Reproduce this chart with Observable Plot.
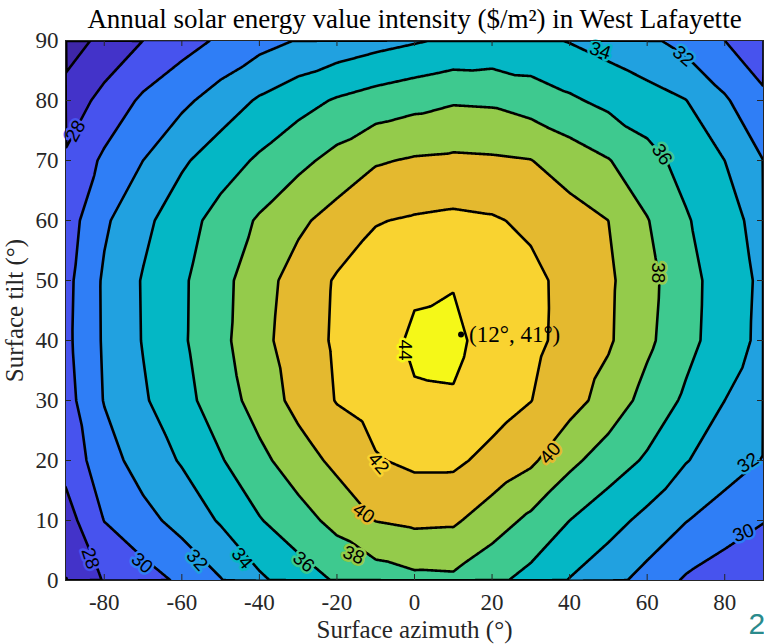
<!DOCTYPE html>
<html><head><meta charset="utf-8">
<script src="https://cdn.jsdelivr.net/npm/d3@7"></script>
<script src="https://cdn.jsdelivr.net/npm/@observablehq/plot@0.6"></script>
<style>html,body{margin:0;padding:0;background:#fff;overflow:hidden}svg{display:block}</style>
</head><body><div id="chart"></div>
<script>
// Grid of annual value intensity ($/m^2)
const azimuths = [-90,-80,-70,-60,-50,-40,-30,-20,-10,0,10,20,30,40,50,60,70,80,90];
const tilts = [0,10,20,30,40,50,60,70,80,90];
const tilt0  = [25.9,28.15,29.18,30.33,31.88,33.64,34.98,36.2,36.9,37.5,37.6,36.48,35.35,33.9,32.7,31.27,29.75,28.9,28.0];
const tilt10 = [27.1,30.04,31.34,32.7,34.2,35.87,37.2,38.6,40.05,40.4,40.3,38.96,37.56,36.0,34.75,33.45,32.07,31.0,30.1];
const tilt20 = [28.7,31.1,32.9,34.17,35.84,37.48,39.05,40.5,41.85,42.4,42.4,41.4,40.35,38.48,37.03,35.73,34.1,32.98,31.9];
const tilt30 = [29.2,32.1,33.75,35.36,37.0,38.83,40.63,42.1,42.8,43.8,43.85,42.96,42.04,40.76,39.2,37.3,35.67,34.0,32.8];
const tilt40 = [29.5,32.25,34.1,35.73,37.47,39.43,41.0,42.28,43.2,44.3,44.4,43.3,42.45,41.43,40.25,38.4,36.6,35.0,33.5];
const tilt50 = [29.4,32.28,34.14,35.7,37.38,39.2,40.83,42.2,42.9,43.7,43.9,43.3,42.5,41.4,40.32,38.6,36.7,35.05,33.6];
const tilt60 = [29.0,31.7,33.5,35.16,36.75,38.24,39.6,40.79,41.9,42.2,42.4,42.2,41.63,40.8,40.0,38.1,36.2,34.7,33.3];
const tilt70 = [28.3,30.36,32.0,33.7,35.06,36.3,37.47,38.64,39.8,40.2,40.35,40.25,40.05,39.06,38.1,36.7,35.3,34.0,32.0];
const tilt80 = [26.75,28.64,30.34,31.55,32.9,34.24,35.27,36.2,36.85,37.35,37.8,37.7,37.1,36.3,35.49,34.8,34.04,32.25,30.4];
const tilt90 = [25.1,26.5,28.0,29.2,30.3,31.3,32.1,32.7,33.3,33.8,34.3,34.5,34.4,33.9,33.2,32.4,31.3,30.0,28.7];
const levels = [24,26,28,30,32,34,36,38,40,42,44];
const bandColors = ["#3e26a8","#4333c9","#4753ee","#2f7ef6","#21a1e0","#04b7c5","#3ec98f","#94cb4b","#e4b92f","#f9d330","#f5f818"];
const xTicks = [-80,-60,-40,-20,0,20,40,60,80];
const yTicks = [0,10,20,30,40,50,60,70,80,90];
// Inline contour labels
const labelAz    = [-87.4,47.9,69.3,63.8,62.9,-2.4,-83.6,-70.3,-56.1,-44.5,-28.6,-15.7,-13.1,-9.3,35.0,86.0,84.8];
const labelTilt  = [74.9,88.3,87.4,71.0,51.3,38.4,3.7,2.9,3.4,3.7,3.1,4.25,11.2,19.5,21.2,19.6,7.9];
const labelLevel = [28,34,32,36,38,44,28,30,32,34,36,38,40,42,40,32,30];
const labelAngle = [-61,18,40,57,90,90,72,40,48,51,39,22,35,50,-48,-33,-21];
// Optimum
const peakAz = [12];
const peakTilt = [41];
const titleText = "Annual solar energy value intensity ($/m²) in West Lafayette";
const xLabel = "Surface azimuth (°)";
const yLabel = "Surface tilt (°)";

const rows = [tilt0,tilt10,tilt20,tilt30,tilt40,tilt50,tilt60,tilt70,tilt80,tilt90];
const points = [];
rows.forEach((row, j) => row.forEach((v, i) => points.push({az: azimuths[i], tilt: tilts[j], v})));
const labels = labelAz.map((az, i) => ({az, tilt: labelTilt[i], level: labelLevel[i], angle: labelAngle[i]}));
const peak = peakAz.map((az, i) => ({az, tilt: peakTilt[i]}));

const W = 764, H = 644, mL = 65, mR = 1, mT = 40, mB = 64;
const innerW = W - mL - mR, innerH = H - mT - mB;
const serif = "'Liberation Serif', 'Times New Roman', serif";
const sans = "'Liberation Sans', Arial, sans-serif";
const axisColor = "#262626";
const cOpts = {x: "az", y: "tilt", interpolate: "barycentric", pixelSize: 1, x1: -93, x2: 93, y1: -3, y2: 93, clip: true};

const chart = Plot.plot({
  width: W, height: H, marginLeft: mL, marginRight: mR, marginTop: mT, marginBottom: mB,
  style: {fontFamily: serif, fontSize: "23px", background: "#fff", color: axisColor},
  x: {domain: [-90, 90]},
  y: {domain: [0, 90]},
  color: {type: "ordinal", domain: levels, range: bandColors},
  marks: [
    Plot.contour(points, {...cOpts, fill: "v", thresholds: levels, stroke: "none"}),
    Plot.contour(points, {...cOpts, value: "v", thresholds: levels.slice(1), fill: "none", stroke: "black", strokeWidth: 2.6, strokeLinejoin: "round"}),
    Plot.text(labels, {x: "az", y: "tilt", text: d => String(d.level), rotate: "angle", fontFamily: sans, fontSize: 19,
      fill: "black", stroke: "level", strokeWidth: 5, textAnchor: "middle", lineAnchor: "middle"}),
    Plot.frame({stroke: axisColor, strokeWidth: 1}),
    Plot.tickX(xTicks, {x: d => d, insetTop: innerH - 6, stroke: axisColor}),
    Plot.tickX(xTicks, {x: d => d, insetBottom: innerH - 6, stroke: axisColor}),
    Plot.tickY(yTicks, {y: d => d, insetRight: innerW - 6, stroke: axisColor}),
    Plot.tickY(yTicks, {y: d => d, insetLeft: innerW - 6, stroke: axisColor}),
    Plot.axisX(xTicks, {tickSize: 0, tickPadding: 13, tickFormat: d => String(d), fontSize: 23,
      label: xLabel, labelAnchor: "center", labelArrow: "none", labelOffset: 57}),
    Plot.axisY(yTicks, {tickSize: 0, tickPadding: 7, tickFormat: d => String(d), fontSize: 23,
      label: yLabel, labelAnchor: "center", labelArrow: "none", labelOffset: 60}),
    Plot.dot(peak, {x: "az", y: "tilt", r: 3, fill: "black"}),
    Plot.text(peak, {x: "az", y: "tilt", text: d => `(${d.az}°, ${d.tilt}°)`, dx: 8, textAnchor: "start", fontSize: 23, fill: "black"}),
    Plot.text([titleText], {frameAnchor: "top", lineAnchor: "middle", dy: -21, fontSize: 27, fill: "black"}),
    Plot.text(["2"], {frameAnchor: "bottom-right", dx: -15, dy: 53, textAnchor: "start", fontFamily: sans, fontSize: 30, fill: "#2a8a8c"})
  ]
});
document.getElementById("chart").append(chart);
// axis title sizes
chart.querySelectorAll("[aria-label='x-axis label'] text, [aria-label='y-axis label'] text").forEach(t => t.setAttribute("font-size", 25));
</script>
</body></html>
